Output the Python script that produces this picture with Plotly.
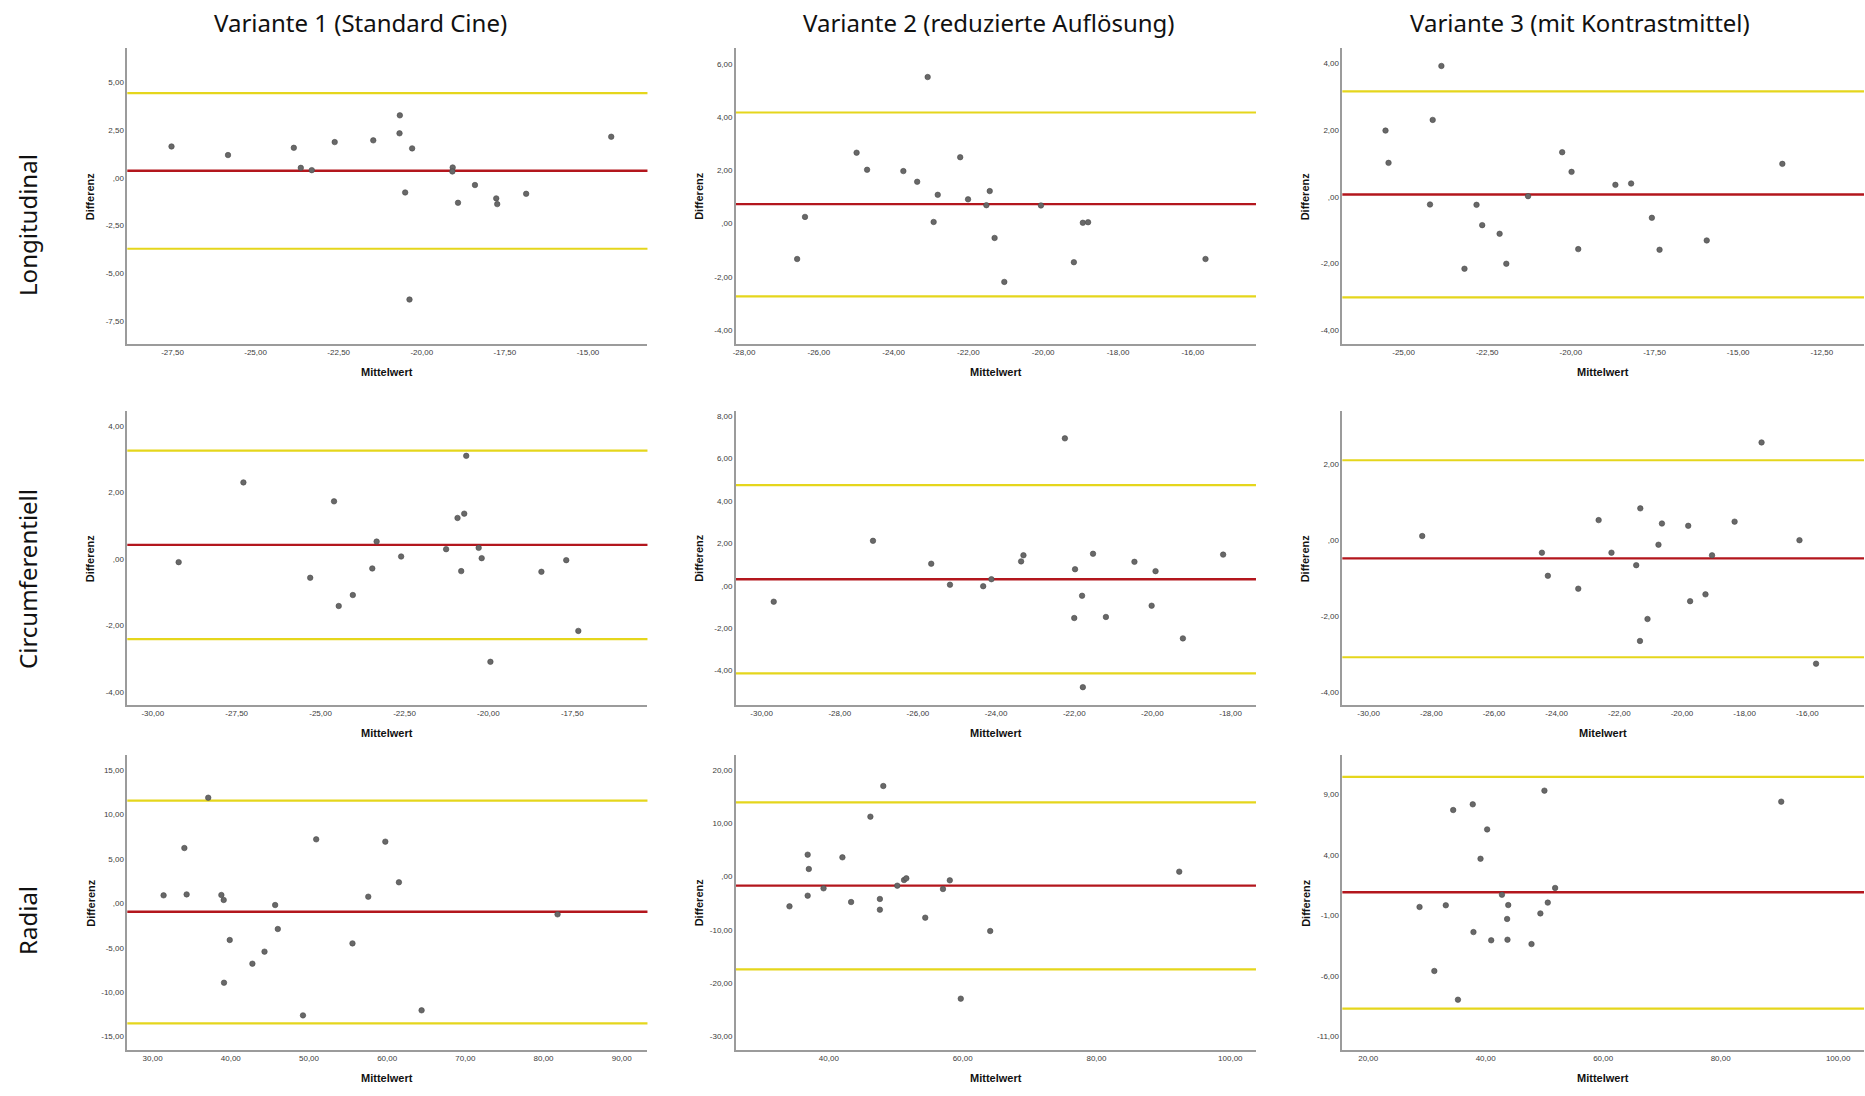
import plotly.graph_objects as go

# ---------------- data: Bland-Altman values (Mittelwert, Differenz) ----------------
# Longitudinal
long_v1_mean = [-27.53, -25.83, -23.85, -23.64, -23.31, -22.62, -21.46, -20.66, -20.67, -20.29,
                -20.50, -20.37, -19.07, -19.08, -18.91, -18.40, -17.76, -17.73, -16.86, -14.30]
long_v1_diff = [1.64, 1.19, 1.57, 0.52, 0.40, 1.87, 1.96, 3.27, 2.33, 1.54,
                -0.77, -6.38, 0.54, 0.33, -1.31, -0.38, -1.08, -1.38, -0.84, 2.15]
long_v2_mean = [-23.09, -24.99, -24.71, -23.74, -23.37, -22.82, -22.22, -22.01, -22.93, -21.43,
                -21.52, -21.30, -21.04, -20.06, -19.18, -18.94, -18.80, -26.58, -26.37, -15.66]
long_v2_diff = [5.50, 2.66, 2.02, 1.97, 1.57, 1.08, 2.49, 0.91, 0.06, 1.22,
                0.69, -0.54, -2.19, 0.68, -1.45, 0.03, 0.05, -1.33, 0.25, -1.33]
long_v3_mean = [-25.54, -25.45, -24.13, -23.87, -24.21, -23.18, -22.82, -22.65, -22.13, -21.93,
                -21.28, -20.26, -19.98, -19.78, -18.67, -18.20, -17.58, -17.35, -15.94, -13.68]
long_v3_diff = [1.99, 1.02, 2.31, 3.93, -0.23, -2.16, -0.24, -0.85, -1.11, -2.01,
                0.02, 1.34, 0.75, -1.57, 0.36, 0.40, -0.63, -1.59, -1.31, 0.99]

# Circumferentiell
circ_v1_mean = [-29.23, -27.30, -25.31, -24.60, -24.46, -24.04, -23.33, -23.46, -22.60, -21.26,
                -20.92, -20.72, -20.66, -20.81, -20.29, -20.20, -19.94, -18.42, -17.68, -17.32]
circ_v1_diff = [-0.10, 2.30, -0.57, 1.73, -1.42, -1.09, 0.52, -0.29, 0.07, 0.29,
                1.23, 1.36, 3.10, -0.37, 0.33, 0.02, -3.10, -0.39, -0.04, -2.17]
circ_v2_mean = [-29.69, -27.15, -25.66, -25.18, -24.33, -24.12, -23.36, -23.30, -22.24, -21.98,
                -21.80, -22.00, -21.78, -21.52, -21.19, -20.46, -19.92, -20.02, -19.22, -18.19]
circ_v2_diff = [-0.75, 2.12, 1.04, 0.05, -0.02, 0.31, 1.15, 1.44, 6.95, 0.78,
                -0.47, -1.52, -4.78, 1.51, -1.47, 1.13, 0.69, -0.94, -2.48, 1.47]
circ_v3_mean = [-28.29, -24.47, -24.28, -23.31, -22.66, -22.25, -21.46, -21.33, -21.34, -21.10,
                -20.64, -20.75, -19.80, -19.74, -19.25, -19.04, -18.32, -17.46, -16.25, -15.72]
circ_v3_diff = [0.11, -0.33, -0.94, -1.28, 0.53, -0.33, -0.66, 0.84, -2.66, -2.08,
                0.44, -0.12, 0.38, -1.61, -1.43, -0.40, 0.49, 2.58, 0.00, -3.26]

# Radial
rad_v1_mean = [31.40, 34.06, 34.35, 37.11, 38.79, 39.09, 39.13, 39.86, 42.76, 44.31,
               45.67, 46.01, 49.23, 50.92, 55.56, 57.58, 59.76, 61.50, 64.40, 81.79]
rad_v1_diff = [0.90, 6.23, 1.01, 11.90, 0.94, 0.38, -8.94, -4.13, -6.80, -5.44,
               -0.19, -2.89, -12.62, 7.21, -4.51, 0.75, 6.95, 2.37, -12.05, -1.24]
rad_v2_mean = [34.12, 36.84, 37.01, 36.84, 39.21, 42.03, 43.33, 46.21, 47.63, 47.63,
               48.14, 50.23, 51.24, 51.58, 54.41, 57.06, 58.08, 59.72, 64.12, 92.37]
rad_v2_diff = [-5.57, 4.13, 1.44, -3.57, -2.19, 3.63, -4.76, 11.26, -4.19, -6.20,
               17.02, -1.69, -0.63, -0.31, -7.70, -2.32, -0.69, -22.90, -10.20, 0.94]
rad_v3_mean = [28.74, 31.26, 33.21, 34.47, 35.28, 37.80, 37.92, 39.12, 40.25, 40.94,
               42.77, 43.65, 43.71, 43.84, 47.80, 49.31, 50.00, 50.57, 51.82, 90.31]
rad_v3_diff = [-0.31, -5.59, -0.17, 7.69, -7.96, 8.16, -2.38, 3.67, 6.09, -3.06,
               0.70, -1.30, -3.01, -0.15, -3.37, -0.84, 9.29, 0.05, 1.26, 8.38]

# mean difference (bias) and limits of agreement
long_v1_bias, long_v1_upper, long_v1_lower = 0.37, 4.44, -3.72
long_v2_bias, long_v2_upper, long_v2_lower = 0.73, 4.17, -2.73
long_v3_bias, long_v3_upper, long_v3_lower = 0.07, 3.17, -3.02
circ_v1_bias, circ_v1_upper, circ_v1_lower = 0.42, 3.26, -2.42
circ_v2_bias, circ_v2_upper, circ_v2_lower = 0.31, 4.75, -4.13
circ_v3_bias, circ_v3_upper, circ_v3_lower = -0.48, 2.11, -3.09
rad_v1_bias, rad_v1_upper, rad_v1_lower = -0.94, 11.57, -13.52
rad_v2_bias, rad_v2_upper, rad_v2_lower = -1.69, 13.95, -17.40
rad_v3_bias, rad_v3_upper, rad_v3_lower = 0.90, 10.42, -8.70

# tick values
long_v1_xticks = [-27.5, -25, -22.5, -20, -17.5, -15]
long_v1_yticks = [-7.5, -5, -2.5, 0, 2.5, 5]
long_v2_xticks = [-28, -26, -24, -22, -20, -18, -16]
long_v2_yticks = [-4, -2, 0, 2, 4, 6]
long_v3_xticks = [-25, -22.5, -20, -17.5, -15, -12.5]
long_v3_yticks = [-4, -2, 0, 2, 4]
circ_v1_xticks = [-30, -27.5, -25, -22.5, -20, -17.5]
circ_v1_yticks = [-4, -2, 0, 2, 4]
circ_v2_xticks = [-30, -28, -26, -24, -22, -20, -18]
circ_v2_yticks = [-4, -2, 0, 2, 4, 6, 8]
circ_v3_xticks = [-30, -28, -26, -24, -22, -20, -18, -16]
circ_v3_yticks = [-4, -2, 0, 2]
rad_v1_xticks = [30, 40, 50, 60, 70, 80, 90]
rad_v1_yticks = [-15, -10, -5, 0, 5, 10, 15]
rad_v2_xticks = [40, 60, 80, 100]
rad_v2_yticks = [-30, -20, -10, 0, 10, 20]
rad_v3_xticks = [20, 40, 60, 80, 100]
rad_v3_yticks = [-11, -6, -1, 4, 9]

column_titles = ["Variante 1 (Standard Cine)", "Variante 2 (reduzierte Auflösung)",
                 "Variante 3 (mit Kontrastmittel)"]
row_titles = ["Longitudinal", "Circumferentiell", "Radial"]
x_titles = ["Mittelwert", "Mittelwert", "Mittelwert",
            "Mittelwert", "Mittelwert", "Mitelwert",
            "Mittelwert", "Mittelwert", "Mittelwert"]
y_title = "Differenz"

# ---------------- panel assembly ----------------
panels = [
    (long_v1_mean, long_v1_diff, long_v1_bias, long_v1_upper, long_v1_lower, long_v1_xticks, long_v1_yticks, [-28.86, -13.21], [-8.71, 6.80]),
    (long_v2_mean, long_v2_diff, long_v2_bias, long_v2_upper, long_v2_lower, long_v2_xticks, long_v2_yticks, [-28.22, -14.31], [-4.52, 6.59]),
    (long_v3_mean, long_v3_diff, long_v3_bias, long_v3_upper, long_v3_lower, long_v3_xticks, long_v3_yticks, [-26.83, -11.24], [-4.42, 4.47]),
    (circ_v1_mean, circ_v1_diff, circ_v1_bias, circ_v1_upper, circ_v1_lower, circ_v1_xticks, circ_v1_yticks, [-30.76, -15.26], [-4.40, 4.45]),
    (circ_v2_mean, circ_v2_diff, circ_v2_bias, circ_v2_upper, circ_v2_lower, circ_v2_xticks, circ_v2_yticks, [-30.66, -17.35], [-5.62, 8.24]),
    (circ_v3_mean, circ_v3_diff, circ_v3_bias, circ_v3_upper, circ_v3_lower, circ_v3_xticks, circ_v3_yticks, [-30.84, -14.19], [-4.35, 3.41]),
    (rad_v1_mean, rad_v1_diff, rad_v1_bias, rad_v1_upper, rad_v1_lower, rad_v1_xticks, rad_v1_yticks, [26.76, 93.29], [-16.52, 16.71]),
    (rad_v2_mean, rad_v2_diff, rad_v2_bias, rad_v2_upper, rad_v2_lower, rad_v2_xticks, rad_v2_yticks, [26.10, 103.84], [-32.54, 22.84]),
    (rad_v3_mean, rad_v3_diff, rad_v3_bias, rad_v3_upper, rad_v3_lower, rad_v3_xticks, rad_v3_yticks, [15.60, 104.40], [-12.11, 12.23]),
]

W, H = 1865, 1096
col_px = [(124.5, 645.5), (734.0, 1255.0), (1341.5, 1864.0)]
row_px = [(48.0, 344.0), (411.0, 705.0), (755.0, 1050.0)]


def de_fmt(v):
    s = f"{v:.2f}".replace(".", ",")
    if s in ("0,00", "-0,00"):
        return ",00"
    return s


TICK_FONT = dict(family="Liberation Sans, Arial, sans-serif", size=8, color="#3c3c3c")
LABEL_FONT = dict(family="Liberation Sans, Arial, sans-serif", size=11, color="#111111")
AXIS_COLOR = "#9b9b9b"
YELLOW = "#e5d61c"
RED = "#b3161d"

fig = go.Figure()
layout = dict(
    width=W, height=H, autosize=False,
    margin=dict(l=0, r=0, t=0, b=0),
    paper_bgcolor="white", plot_bgcolor="white",
    showlegend=False,
)
shapes = []
annotations = []

for i, (xm, yd, bias, upper, lower, xt, yt, xr, yr) in enumerate(panels):
    r, c = divmod(i, 3)
    n = i + 1
    xa = "x" if n == 1 else f"x{n}"
    ya = "y" if n == 1 else f"y{n}"
    xkey = "xaxis" if n == 1 else f"xaxis{n}"
    ykey = "yaxis" if n == 1 else f"yaxis{n}"
    x0, x1 = col_px[c]
    top, bot = row_px[r]
    layout[xkey] = dict(
        domain=[x0 / W, x1 / W], anchor=ya, range=xr,
        tickvals=xt, ticktext=[de_fmt(v) for v in xt],
        showgrid=False, zeroline=False, showline=True, linecolor=AXIS_COLOR, linewidth=1.5,
        ticks="", tickfont=TICK_FONT, fixedrange=True,
    )
    layout[ykey] = dict(
        domain=[1 - bot / H, 1 - top / H], anchor=xa, range=yr,
        tickvals=yt, ticktext=[de_fmt(v) for v in yt],
        showgrid=False, zeroline=False, showline=True, linecolor=AXIS_COLOR, linewidth=1.5,
        ticks="", tickfont=TICK_FONT, fixedrange=True,
    )

    # limits of agreement (yellow) and bias (red)
    for val, col, w in ((upper, YELLOW, 2.2), (lower, YELLOW, 2.2), (bias, RED, 2.4)):
        shapes.append(dict(type="line", xref=f"{xa} domain", yref=ya,
                           x0=0, x1=1, y0=val, y1=val,
                           line=dict(color=col, width=w), layer="below"))

    fig.add_trace(go.Scatter(
        x=xm, y=yd, mode="markers", xaxis=xa, yaxis=ya,
        marker=dict(size=5.5, color="#686868", line=dict(color="#4a4a4a", width=0.6)),
        hoverinfo="x+y",
    ))

    annotations.append(dict(text=f"<b>{x_titles[i]}</b>", xref=f"{xa} domain", yref=f"{ya} domain",
                            x=0.5, y=0, yshift=-28, xanchor="center", yanchor="middle",
                            showarrow=False, font=LABEL_FONT))
    annotations.append(dict(text=f"<b>{y_title}</b>", xref=f"{xa} domain", yref=f"{ya} domain",
                            x=0, y=0.5, xshift=-37, xanchor="center", yanchor="middle",
                            textangle=-90, showarrow=False, font=LABEL_FONT))

TITLE_FONT = dict(family="Noto Sans, Open Sans, sans-serif", size=24, color="#111111")
for title, cx in zip(column_titles, (358.5, 988.0, 1580.0)):
    annotations.append(dict(text=title, xref="paper", yref="paper", x=cx / W, y=1 - 22 / H,
                            xanchor="center", yanchor="middle", showarrow=False, font=TITLE_FONT))
for title, cy in zip(row_titles, (225.0, 579.0, 920.0)):
    annotations.append(dict(text=title, xref="paper", yref="paper", x=24 / W, y=1 - cy / H,
                            xanchor="center", yanchor="middle", textangle=-90,
                            showarrow=False, font=TITLE_FONT))

layout["shapes"] = shapes
layout["annotations"] = annotations
fig.update_layout(**layout)
fig.write_html("out.html")
